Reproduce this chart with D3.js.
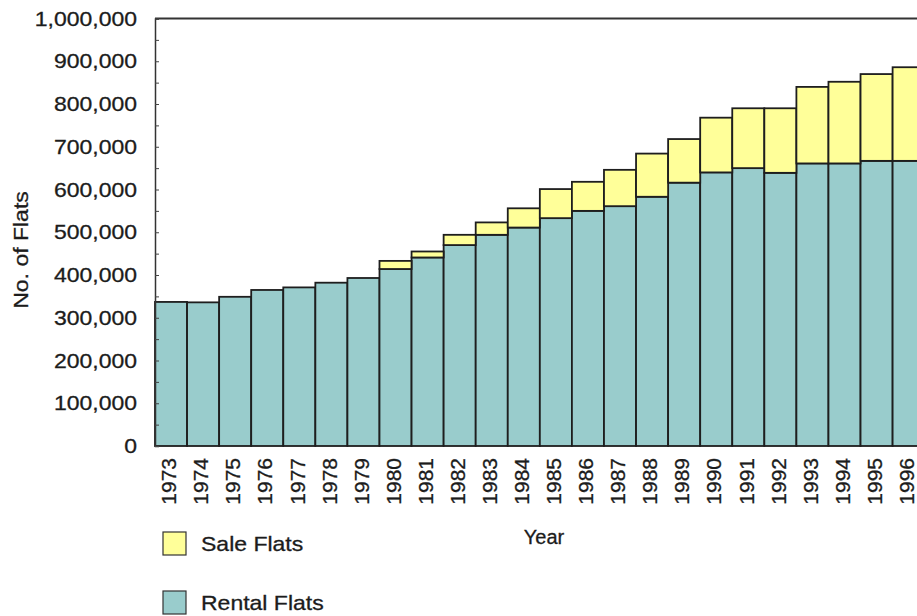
<!DOCTYPE html>
<html>
<head>
<meta charset="utf-8">
<script src="https://cdn.jsdelivr.net/npm/d3@7"></script>
<style>
  html, body { margin: 0; padding: 0; background: #fff; overflow: hidden; }
  svg { display: block; }
  text { font-family: "Liberation Sans", Arial, sans-serif; fill: #1c1c1c; stroke: #1c1c1c; stroke-width: 0.3px; }
</style>
</head>
<body>
<svg id="chart" width="940" height="616"></svg>
<script>
// Public housing stock by year (number of flats)
const years = ["1973","1974","1975","1976","1977","1978","1979","1980","1981","1982",
  "1983","1984","1985","1986","1987","1988","1989","1990","1991","1992","1993","1994","1995","1996"];
const rentalFlats = [337000,336000,349000,365000,371000,382000,393000,414000,441000,470000,
  494000,511000,533000,550000,561000,583000,616000,640000,650000,639000,661000,661000,667000,667000];
const saleFlats = [0,0,0,0,0,0,0,19000,14000,24000,
  29000,45000,68000,68000,85000,101000,102000,128000,140000,151000,179000,191000,203000,219000];
const yTicks = [0,100000,200000,300000,400000,500000,600000,700000,800000,900000,1000000];
const seriesNames = ["Sale Flats", "Rental Flats"];
const colors = { rental: "#99cccc", sale: "#ffff99" };

const svg = d3.select("#chart");
const plotLeft = 155, plotTop = 18.5, plotBottom = 446;
const band = 32.07;
const stretch = 1.15;

const x = d3.scaleBand().domain(years).range([plotLeft, plotLeft + band * years.length]).padding(0);
const y = d3.scaleLinear().domain([0, 1000000]).range([plotBottom, plotTop]);

const rows = years.map((yr, i) => ({ year: yr, rental: rentalFlats[i], sale: saleFlats[i] }));
const stack = d3.stack().keys(["rental", "sale"])(rows);

// stacked bars
const layers = svg.append("g").selectAll("g").data(stack).join("g")
  .attr("fill", d => colors[d.key]);
layers.selectAll("rect")
  .data(d => d.filter(p => p[1] - p[0] > 0))
  .join("rect")
  .attr("x", d => x(d.data.year))
  .attr("width", x.bandwidth())
  .attr("y", d => y(d[1]))
  .attr("height", d => y(d[0]) - y(d[1]))
  .attr("stroke", "#1e1e1e")
  .attr("stroke-width", 1.8);

// top frame line
svg.append("line")
  .attr("x1", plotLeft).attr("x2", 940)
  .attr("y1", plotTop).attr("y2", plotTop)
  .attr("stroke", "#333").attr("stroke-width", 2);

// y axis with inward minor ticks every 50,000
const yAxis = d3.axisRight(y).tickValues(d3.range(0, 1000001, 50000)).tickSize(4).tickFormat("");
const ya = svg.append("g").attr("transform", `translate(${plotLeft},0)`).call(yAxis);
ya.select(".domain").attr("stroke", "#333").attr("stroke-width", 1.5);
ya.selectAll(".tick line").attr("stroke", "#444");

// y tick labels
const fmt = d3.format(",");
svg.append("g").selectAll("text").data(yTicks).join("text")
  .attr("transform", d => `translate(137,${y(d)}) scale(${stretch},1)`)
  .attr("text-anchor", "end")
  .attr("dy", "0.36em")
  .style("font-size", "20px")
  .text(d => fmt(d));

// x tick labels (rotated)
svg.append("g").selectAll("text").data(years).join("text")
  .attr("transform", d => `translate(${x(d) + x.bandwidth() / 2 - 2},458) rotate(-90) scale(1.05,1)`)
  .attr("text-anchor", "end")
  .attr("dy", "0.36em")
  .style("font-size", "20px")
  .text(d => d);

// axis titles
svg.append("text")
  .attr("transform", `translate(21,250) rotate(-90) scale(${stretch},1)`)
  .attr("text-anchor", "middle")
  .attr("dy", "0.36em")
  .style("font-size", "20px")
  .text("No. of Flats");

svg.append("text")
  .attr("x", 544).attr("y", 537)
  .attr("text-anchor", "middle")
  .attr("dy", "0.36em")
  .style("font-size", "20px")
  .text("Year");

// legend
const legend = svg.append("g").selectAll("g")
  .data(seriesNames).join("g")
  .attr("transform", (d, i) => `translate(163,${532 + i * 59})`);
legend.append("rect")
  .attr("width", 23).attr("height", 23)
  .attr("fill", (d, i) => i === 0 ? colors.sale : colors.rental)
  .attr("stroke", "#333").attr("stroke-width", 1.2);
legend.append("text")
  .attr("transform", `translate(38,12) scale(${stretch},1)`)
  .attr("dy", "0.36em")
  .style("font-size", "20px")
  .text(d => d);
</script>
</body>
</html>
